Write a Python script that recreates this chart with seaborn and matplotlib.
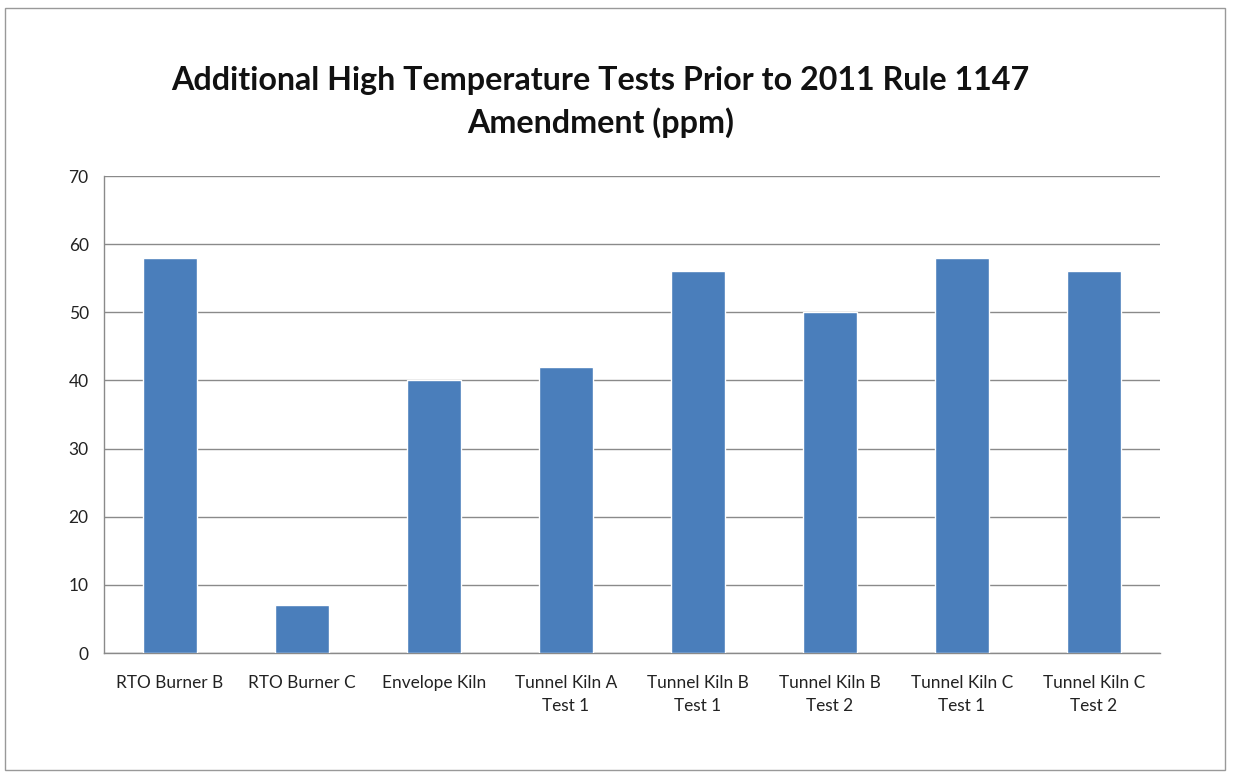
import numpy as np
import pandas as pd
import seaborn as sns
import matplotlib.pyplot as plt
from matplotlib.patches import Rectangle


categories = [
    'RTO Burner B', 'RTO Burner C', 'Envelope Kiln', 'Tunnel Kiln A\nTest 1',
    'Tunnel Kiln B\nTest 1', 'Tunnel Kiln B\nTest 2', 'Tunnel Kiln C\nTest 1',
    'Tunnel Kiln C\nTest 2'
]
ppm_values = [58, 7, 40, 42, 56, 50, 58, 56]
y_ticks = [0, 10, 20, 30, 40, 50, 60, 70]
title = 'Additional High Temperature Tests Prior to 2011 Rule 1147\nAmendment (ppm)'


def make_chart():
    sns.set_style('white')
    plt.rcParams['font.family'] = ['Lato', 'DejaVu Sans']

    df = pd.DataFrame({'test': categories, 'ppm': ppm_values})

    fig = plt.figure(figsize=(12.36, 7.74), dpi=100)
    ax = fig.add_axes([0.0841, 0.1563, 0.8544, 0.6163])

    sns.barplot(
        data=df, x='test', y='ppm', color='#4a7ebb',
        saturation=1, width=0.41, ax=ax, zorder=3
    )

    ax.set_ylim(0, 70)
    ax.set_xlim(-0.5, len(categories) - 0.5)
    ax.set_yticks(y_ticks)
    ax.set_xlabel('')
    ax.set_ylabel('')

    # gridlines and axes in Excel-like gray
    ax.yaxis.grid(True, color='#8a8a8a', linewidth=1)
    for side in ['top', 'right']:
        ax.spines[side].set_visible(False)
    for side in ['left', 'bottom']:
        ax.spines[side].set_color('#8a8a8a')
        ax.spines[side].set_linewidth(1)

    # tick marks between categories
    ax.set_xticks(np.arange(-0.5, len(categories)), minor=True)
    ax.tick_params(axis='x', which='major', length=0, pad=16, labelsize=12.4,
                   colors='#222222')
    ax.tick_params(axis='x', which='minor', length=6, color='#8a8a8a',
                   direction='out')
    ax.tick_params(axis='y', length=5, color='#8a8a8a', direction='out',
                   labelsize=12.5, pad=6, colors='#222222')
    for lab in ax.get_xticklabels():
        lab.set_linespacing(1.5)

    fig.text(0.486, 0.868, title, ha='center', va='center', fontsize=23.2,
             fontweight='bold', linespacing=1.5, color='#111111')

    fig.patches.append(Rectangle(
        (0.004, 0.005), 0.987, 0.985, transform=fig.transFigure,
        fill=False, edgecolor='#999999', linewidth=1
    ))

    fig.savefig('out.png', dpi=100)


if __name__ == '__main__':
    make_chart()
